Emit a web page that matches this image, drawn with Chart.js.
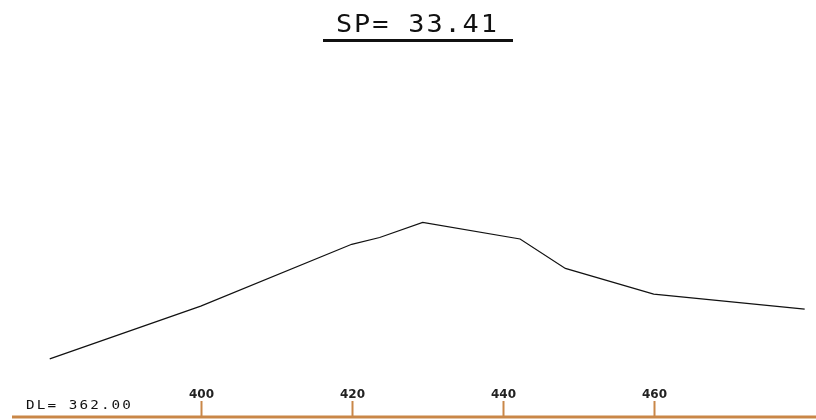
<!DOCTYPE html>
<html>
<head>
<meta charset="utf-8">
<script src="https://cdn.jsdelivr.net/npm/chart.js@4/dist/chart.umd.min.js"></script>
<style>
  html, body { margin: 0; padding: 0; background: #fff; }
  #wrap { width: 816px; height: 420px; }
</style>
</head>
<body>
<div id="wrap"><canvas id="profileChart"></canvas></div>
<script>
// chainage / elevation of the ground profile
const chainage = [380, 400, 420, 423.7, 429.4, 442.3, 448.3, 460, 480];
const elevation = [369.7, 376.7, 384.9, 385.8, 387.8, 385.6, 381.7, 378.3, 376.3];
const tickValues = [400, 420, 440, 460];
const titleText = 'SP= 33.41';
const datumText = 'DL= 362.00';
const datumLevel = 362;

const axisColor = 'rgb(201, 135, 72)';

// CAD style text: fixed pitch, glyphs stretched sideways
function cadText(c, text, x, y, size, spacing, stretch) {
    c.save();
    c.translate(x, y);
    c.scale(stretch, 1);
    c.font = size + 'px "DejaVu Sans Mono", monospace';
    c.letterSpacing = spacing + 'px';
    c.fillText(text, 0, 0);
    c.restore();
}

// draws title with underline, the datum label and the orange baseline axis
const cadPlugin = {
    id: 'cad',
    afterDraw(chart) {
        const c = chart.ctx;
        const x = chart.scales.x;
        const y = chart.scales.y;
        const base = y.getPixelForValue(datumLevel);

        c.save();
        c.fillStyle = '#111';
        c.textAlign = 'left';
        c.textBaseline = 'alphabetic';

        // title
        cadText(c, titleText, 336, 32, 24, 1.7, 1.12);
        c.strokeStyle = '#111';
        c.lineWidth = 3;
        c.beginPath();
        c.moveTo(323, 40.5);
        c.lineTo(513, 40.5);
        c.stroke();

        // datum label
        cadText(c, datumText, 26, 409, 13, 1.9, 1.1);

        // axis line
        c.strokeStyle = axisColor;
        c.lineWidth = 3;
        c.beginPath();
        c.moveTo(x.left, base);
        c.lineTo(x.right, base);
        c.stroke();

        // ticks and labels
        c.lineWidth = 2;
        c.font = 'bold 12px "DejaVu Sans", sans-serif';
        c.letterSpacing = '0px';
        c.textAlign = 'center';
        c.fillStyle = '#222';
        tickValues.forEach(v => {
            const px = Math.round(x.getPixelForValue(v)) + 0.5;
            c.beginPath();
            c.moveTo(px, base - 16);
            c.lineTo(px, base);
            c.stroke();
            c.fillText(String(v), px, base - 19);
        });
        c.restore();
    }
};

const ctx = document.getElementById('profileChart').getContext('2d');
const profileChart = new Chart(ctx, {
    type: 'line',
    data: {
        datasets: [{
            label: 'Ground',
            data: chainage.map((c, i) => ({ x: c, y: elevation[i] })),
            borderColor: '#111',
            borderWidth: 1.2,
            pointRadius: 0,
            tension: 0,
            fill: false
        }]
    },
    options: {
        responsive: true,
        maintainAspectRatio: false,
        animation: false,
        layout: {
            padding: { top: 55, bottom: 3, left: 12, right: 0 }
        },
        plugins: {
            legend: { display: false },
            title: { display: false },
            tooltip: { enabled: false }
        },
        scales: {
            x: { type: 'linear', min: 375, max: 481.5, display: false },
            y: { type: 'linear', min: 362, max: 410, display: false }
        }
    },
    plugins: [cadPlugin]
});
</script>
</body>
</html>
